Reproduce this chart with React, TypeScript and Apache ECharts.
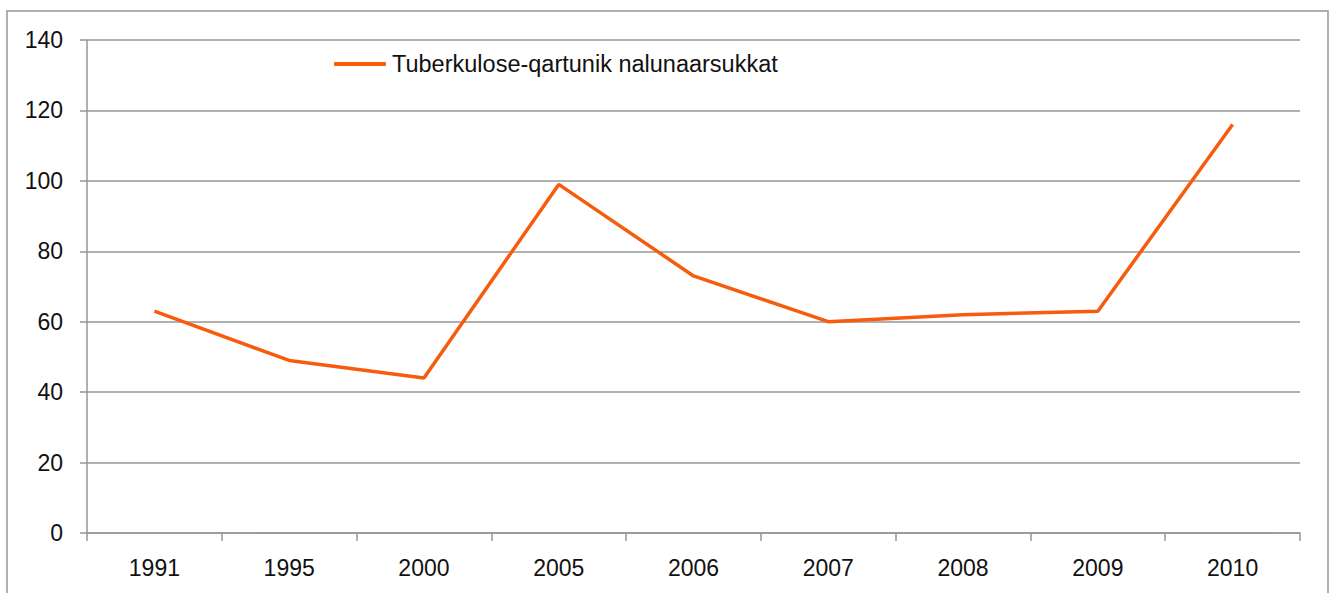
import React, { useEffect, useRef } from "react";
import * as echarts from "echarts";

const categories = ["1991", "1995", "2000", "2005", "2006", "2007", "2008", "2009", "2010"];
const seriesName = "Tuberkulose-qartunik nalunaarsukkat";
const values = [63, 49, 44, 99, 73, 60, 62, 63, 116];
const yTicks = { min: 0, max: 140, interval: 20 };

const FONT = "'Liberation Sans', Arial, sans-serif";
const GRAY = "#969696";
const ORANGE = "#F65C0C";

export default function App() {
  const ref = useRef<HTMLDivElement>(null);
  useEffect(() => {
    if (!ref.current) return;
    const chart = echarts.init(ref.current, null, { renderer: "svg" });
    chart.setOption({
      animation: false,
      backgroundColor: "#ffffff",
      graphic: [
        {
          type: "rect",
          shape: { x: 7, y: 11, width: 1321, height: 620 },
          style: { fill: "none", stroke: GRAY, lineWidth: 1.5 },
          silent: true,
        },
      ],
      grid: { left: 87, top: 40, right: 35, bottom: 60, containLabel: false },
      legend: {
        left: 334,
        top: 52,
        padding: 0,
        itemWidth: 52,
        itemHeight: 4,
        itemGap: 10,
        data: [{ name: seriesName, icon: "roundRect", itemStyle: { color: ORANGE } }],
        textStyle: { fontFamily: FONT, fontSize: 23.5, color: "#111", padding: [0, 0, 0, 1] },
      },
      xAxis: {
        type: "category",
        data: categories,
        boundaryGap: true,
        axisLine: { show: true, lineStyle: { color: GRAY, width: 1.5 } },
        axisTick: { show: true, length: 8, alignWithLabel: false, lineStyle: { color: GRAY, width: 1.5 } },
        axisLabel: { fontFamily: FONT, fontSize: 23, color: "#111", margin: 23 },
        splitLine: { show: false },
      },
      yAxis: {
        type: "value",
        min: yTicks.min,
        max: yTicks.max,
        interval: yTicks.interval,
        axisLine: { show: true, lineStyle: { color: GRAY, width: 1.5 } },
        axisTick: { show: true, length: 7, lineStyle: { color: GRAY, width: 1.5 } },
        axisLabel: { fontFamily: FONT, fontSize: 23, color: "#111", margin: 24 },
        splitLine: { show: true, lineStyle: { color: GRAY, width: 1.5 } },
      },
      series: [
        {
          name: seriesName,
          type: "line",
          data: values,
          symbol: "none",
          lineStyle: { color: ORANGE, width: 3.5 },
          itemStyle: { color: ORANGE },
        },
      ],
    });
    return () => chart.dispose();
  }, []);
  return (
    <div
      ref={ref}
      style={{ position: "absolute", left: 0, top: 0, width: 1335, height: 593 }}
    />
  );
}
